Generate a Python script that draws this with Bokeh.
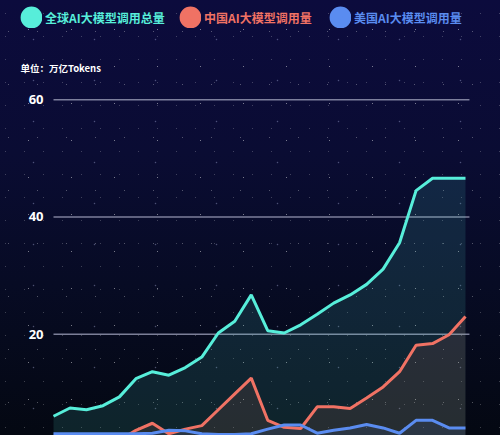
from bokeh.plotting import figure
from bokeh.models import Range1d, Legend, LegendItem, Label, ColumnDataSource
from bokeh.embed import file_html
from bokeh.resources import INLINE

# ---------------- data ----------------
periods = list(range(1, 27))
total = [6.0, 7.4, 7.1, 7.8, 9.3, 12.4, 13.6, 13.0, 14.3, 16.1, 20.2, 22.2, 26.7,
         20.6, 20.2, 21.6, 23.4, 25.3, 26.7, 28.5, 31.1, 35.6, 44.5, 46.6, 46.6, 46.6]
china = [0.8, 1.0, 1.2, 1.5, 1.9, 3.6, 4.8, 3.0, 3.8, 4.4, 7.1, 9.8, 12.5,
         5.3, 4.1, 3.9, 7.6, 7.6, 7.3, 9.1, 11.0, 13.6, 18.1, 18.4, 19.9, 23.0]
us = [3.0, 3.0, 3.0, 3.0, 3.0, 3.0, 3.1, 3.6, 3.5, 3.0, 2.9, 2.9, 3.0,
      3.8, 4.5, 4.5, 3.1, 3.6, 4.0, 4.6, 4.0, 3.1, 5.3, 5.3, 4.0, 4.0]
y_ticks = [0, 20, 40, 60]
y_tick_labels = ["0", "20", "40", "60"]
series_names = ["全球AI大模型调用总量", "中国AI大模型调用量", "美国AI大模型调用量"]
unit_text = "单位：万亿Tokens"

TEAL = "#57EEDA"
RED = "#F07264"
BLUE = "#5A8CF0"
CJK = "Noto Sans CJK SC"

Y_MIN, Y_MAX = 2.71, 76.94
p = figure(width=500, height=435, output_backend="svg", toolbar_location=None,
           x_range=Range1d(-2.216, 28.124), y_range=Range1d(Y_MIN, Y_MAX),
           x_axis_location=None, y_axis_location=None,
           min_border_left=0, min_border_right=0, min_border_top=0, min_border_bottom=0)

p.background_fill_alpha = 0
p.border_fill_alpha = 0
p.outline_line_color = None
p.xgrid.grid_line_color = None
p.ygrid.grid_line_color = None
p.styles = {
    "background": (
        "radial-gradient(circle, rgba(255,255,255,0.45) 0, rgba(255,255,255,0) 1px) 7px 11px / 43px 37px, "
        "radial-gradient(circle, rgba(255,255,255,0.30) 0, rgba(255,255,255,0) 1px) 23px 5px / 29px 53px, "
        "radial-gradient(circle, rgba(200,210,255,0.35) 0, rgba(255,255,255,0) 1.2px) 3px 19px / 61px 41px, "
        "radial-gradient(circle, rgba(255,255,255,0.22) 0, rgba(255,255,255,0) 0.9px) 15px 2px / 19px 23px, "
        "linear-gradient(180deg, #0c0b3d 0%, #0a0c33 35%, #070b24 65%, #040812 100%)"
    )
}

# horizontal grid lines spanning the data width
grid_y = [t for t in y_ticks if Y_MIN <= t <= Y_MAX]
p.segment(x0=[periods[0]] * len(grid_y), x1=[periods[-1] + 0.24] * len(grid_y),
          y0=grid_y, y1=grid_y, line_color="#9a9cb6", line_alpha=0.8, line_width=1.5)

# y tick labels
for t, lab in zip(y_ticks, y_tick_labels):
    if Y_MIN <= t <= Y_MAX:
        p.add_layout(Label(x=43, y=t, x_units="screen", y_units="data", text=lab,
                           text_align="right", text_baseline="middle", text_color="white",
                           text_font="Noto Sans", text_font_size="13px",
                           text_font_style="bold"))

# areas
p.varea(x=periods, y1=0, y2=total, fill_color=TEAL, fill_alpha=0.12)
p.varea(x=periods, y1=0, y2=china, fill_color=RED, fill_alpha=0.11)
p.varea(x=periods, y1=0, y2=us, fill_color=BLUE, fill_alpha=0.10)
# lines
p.line(periods, total, line_color=TEAL, line_width=3)
p.line(periods, china, line_color=RED, line_width=3)
p.line(periods, us, line_color=BLUE, line_width=3)

# legends (one per series so that each label has its own colour)
colors = [TEAL, RED, BLUE]
legend_x = [20, 179, 329]
nan = float("nan")
for name, c, lx in zip(series_names, colors, legend_x):
    r = p.scatter(x="x", y="y", source=ColumnDataSource(dict(x=[nan], y=[nan])),
                  marker="circle", size=20, fill_color=c, line_color=c, line_width=13)
    leg = Legend(items=[LegendItem(label=name, renderers=[r])], location=(lx, 407),
                 orientation="horizontal", glyph_width=22, glyph_height=22, label_height=22,
                 label_standoff=3, padding=0, margin=0, spacing=0,
                 border_line_color=None, background_fill_alpha=0,
                 label_text_color=c, label_text_font=CJK, label_text_font_size="12px",
                 label_text_font_style="bold")
    p.add_layout(leg)

p.add_layout(Label(x=20, y=368, x_units="screen", y_units="screen", text=unit_text,
                   text_color="white", text_font=CJK, text_font_size="9.5px",
                   text_font_style="bold", text_baseline="middle"))

open("out.html", "w").write(file_html(p, INLINE))
